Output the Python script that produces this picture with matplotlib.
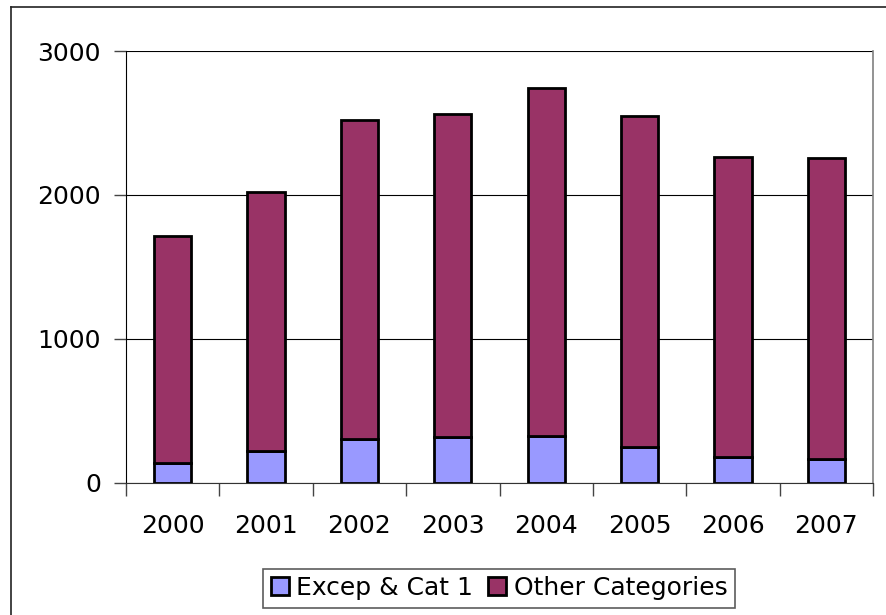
import numpy as np
import matplotlib.pyplot as plt
from matplotlib.lines import Line2D

# yearly counts, split into the two category groups
years = ['2000', '2001', '2002', '2003', '2004', '2005', '2006', '2007']
excep_cat1 = [140, 222, 305, 317, 328, 247, 178, 167]
totals = [1715, 2020, 2521, 2563, 2741, 2549, 2262, 2255]
other_cats = [t - e for t, e in zip(totals, excep_cat1)]

plt.rcParams['font.family'] = 'DejaVu Sans'

fig = plt.figure(figsize=(8.86, 6.15), dpi=100)
W, H = 886, 615
ax = fig.add_axes([126 / W, 1 - 483 / H, (873 - 126) / W, (483 - 51) / H])

x = np.arange(len(years))
ax.bar(x, excep_cat1, width=0.4, color='#9999FF', edgecolor='black',
       linewidth=2.0, label='Excep & Cat 1', zorder=3)
ax.bar(x, other_cats, width=0.4, bottom=excep_cat1, color='#993366',
       edgecolor='black', linewidth=2.0, label='Other Categories', zorder=3)

ax.set_xlim(-0.5, len(years) - 0.5)
ax.set_ylim(0, 3000)
ax.set_yticks([0, 1000, 2000, 3000])
ax.yaxis.grid(True, color='black', linewidth=0.8, zorder=0)

# category labels in the middle, tick marks on the boundaries
ax.set_xticks(x)
ax.set_xticklabels(years)
ax.set_xticks(np.arange(-0.5, len(years)), minor=True)
ax.tick_params(axis='x', which='major', length=0, pad=22, labelsize=18)
ax.tick_params(axis='x', which='minor', length=9, width=1, color='#444444',
               direction='out')
ax.tick_params(axis='y', length=9, width=1, color='#444444', direction='out',
               pad=9, labelsize=18)

ax.spines['top'].set_visible(False)
ax.spines['right'].set_color('#808080')
ax.spines['right'].set_linewidth(1.2)
ax.spines['left'].set_color('black')
ax.spines['bottom'].set_color('#333333')

# outer chart border (runs off the right and bottom edges)
fig.add_artist(Line2D([11 / W, 1.0], [1 - 7 / H, 1 - 7 / H],
                      transform=fig.transFigure, color='#222222', linewidth=1.2))
fig.add_artist(Line2D([11 / W, 11 / W], [0.0, 1 - 7 / H],
                      transform=fig.transFigure, color='#222222', linewidth=1.2))

leg = fig.legend(loc='center', bbox_to_anchor=(499 / W, 1 - 588 / H), ncol=2,
                 fontsize=18, frameon=True, fancybox=False, edgecolor='#333333',
                 handlelength=0.72, handleheight=0.72, handletextpad=0.3,
                 columnspacing=0.6, borderpad=0.3, borderaxespad=0)
leg.get_frame().set_linewidth(1.2)

fig.savefig('out.png', dpi=100)
